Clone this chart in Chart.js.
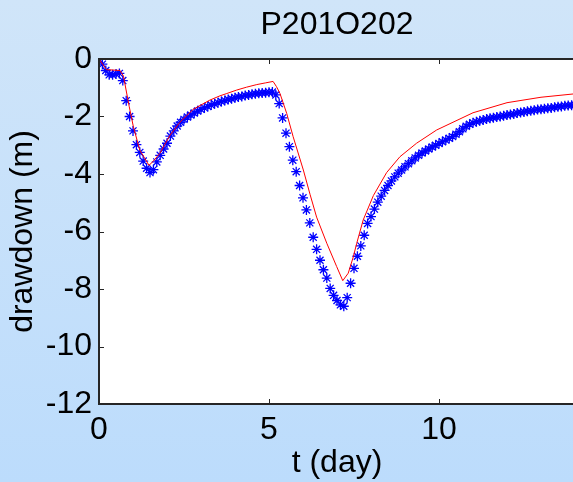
<!DOCTYPE html>
<html>
<head>
<meta charset="utf-8">
<script src="https://cdn.jsdelivr.net/npm/chart.js@4/dist/chart.umd.min.js"></script>
<style>
    html, body { margin: 0; padding: 0; overflow: hidden; }
    body { width: 573px; height: 482px; background: linear-gradient(to bottom, #d0e5f9, #bcdcfc); }
    #wrap { width: 575px; height: 482px; position: relative; }
</style>
</head>
<body>
<div id="wrap"><canvas id="drawdownChart"></canvas></div>
<script>
// Observed drawdown (blue stars), t in days
const obsTime = [
    0.0, 0.1, 0.2, 0.3, 0.4, 0.5, 0.6, 0.7, 0.8, 0.9,
    1.0, 1.1, 1.2, 1.3, 1.4, 1.5, 1.6, 1.7, 1.8, 1.9,
    2.0, 2.1, 2.2, 2.3, 2.4, 2.5, 2.6, 2.7, 2.8, 2.9,
    3.0, 3.1, 3.2, 3.3, 3.4, 3.5, 3.6, 3.7, 3.8, 3.9,
    4.0, 4.1, 4.2, 4.3, 4.4, 4.5, 4.6, 4.7, 4.8, 4.9,
    5.0, 5.1, 5.2, 5.3, 5.4, 5.5, 5.6, 5.7, 5.8, 5.9,
    6.0, 6.1, 6.2, 6.3, 6.4, 6.5, 6.6, 6.7, 6.8, 6.9,
    7.0, 7.1, 7.2, 7.3, 7.4, 7.5, 7.6, 7.7, 7.8, 7.9,
    8.0, 8.1, 8.2, 8.3, 8.4, 8.5, 8.6, 8.7, 8.8, 8.9,
    9.0, 9.1, 9.2, 9.3, 9.4, 9.5, 9.6, 9.7, 9.8, 9.9,
    10.0, 10.1, 10.2, 10.3, 10.4, 10.5, 10.6, 10.7, 10.8, 10.9,
    11.0, 11.1, 11.2, 11.3, 11.4, 11.5, 11.6, 11.7, 11.8, 11.9,
    12.0, 12.1, 12.2, 12.3, 12.4, 12.5, 12.6, 12.7, 12.8, 12.9,
    13.0, 13.1, 13.2, 13.3, 13.4, 13.5, 13.6, 13.7, 13.8, 13.9, 14.0
];
const obsDrawdown = [
    0, -0.18, -0.4, -0.55, -0.55, -0.52, -0.5, -0.75, -1.45, -2.0,
    -2.5, -2.98, -3.25, -3.55, -3.8, -3.95, -3.85, -3.58, -3.35, -3.13,
    -2.93, -2.68, -2.5, -2.33, -2.2, -2.1, -2.02, -1.95, -1.88, -1.81,
    -1.75, -1.7, -1.65, -1.6, -1.56, -1.52, -1.48, -1.44, -1.41, -1.38,
    -1.35, -1.32, -1.3, -1.27, -1.25, -1.23, -1.21, -1.19, -1.18, -1.17,
    -1.16, -1.15, -1.25, -1.55, -2.05, -2.58, -3.05, -3.52, -3.92, -4.4,
    -4.83, -5.25, -5.7, -6.2, -6.62, -7.0, -7.33, -7.62, -7.98, -8.22,
    -8.4, -8.55, -8.6, -8.3, -7.8, -7.28, -6.86, -6.5, -6.13, -5.72,
    -5.48, -5.22, -4.98, -4.77, -4.57, -4.4, -4.24, -4.1, -3.97, -3.86,
    -3.75, -3.64, -3.54, -3.44, -3.35, -3.27, -3.2, -3.13, -3.06, -3.0,
    -2.94, -2.88, -2.82, -2.76, -2.7, -2.62, -2.53, -2.43, -2.34, -2.27,
    -2.22, -2.18, -2.15, -2.12, -2.09, -2.06, -2.04, -2.02, -2.0, -1.97,
    -1.95, -1.93, -1.91, -1.88, -1.86, -1.84, -1.82, -1.8, -1.78, -1.76,
    -1.75, -1.73, -1.71, -1.7, -1.68, -1.66, -1.65, -1.63, -1.62, -1.61, -1.6
];

// Simulated drawdown (red line)
const modelTime = [
    0, 0.22, 0.62, 0.72, 0.89, 1.01, 1.2, 1.47, 1.6, 1.79,
    2.09, 2.38, 2.77, 3.26, 3.56, 3.76, 4.05, 4.34, 4.64, 4.9,
    5.12, 5.22, 5.32, 5.52, 5.71, 6.01, 6.21, 6.4, 6.7, 6.99,
    7.17, 7.33, 7.48, 7.58, 7.77, 8.07, 8.46, 8.85, 9.34, 9.93,
    10.5, 11.0, 12.0, 13.0, 14.0
];
const modelDrawdown = [
    0, -0.37, -0.4, -0.6, -1.66, -2.35, -3.17, -3.7, -3.55, -3.28,
    -2.65, -2.2, -1.75, -1.43, -1.28, -1.2, -1.08, -0.98, -0.89, -0.83,
    -0.78, -0.96, -1.19, -1.89, -2.7, -3.86, -4.72, -5.5, -6.41, -7.22,
    -7.71, -7.45, -6.88, -6.41, -5.6, -4.75, -3.95, -3.4, -2.93, -2.47,
    -2.15, -1.87, -1.52, -1.33, -1.21
];

const xTickValues = [0, 5, 10];
const yTickValues = [-12, -10, -8, -6, -4, -2, 0];

const FONT = 'Liberation Sans, Arial, sans-serif';

// white plot box, MATLAB style frame with inward ticks
const boxPlugin = {
    id: 'box',
    beforeDraw(chart) {
        const { ctx, chartArea: a } = chart;
        ctx.save();
        ctx.fillStyle = '#ffffff';
        ctx.fillRect(a.left, a.top, a.right - a.left, a.bottom - a.top);
        ctx.restore();
    },
    afterDraw(chart) {
        const { ctx, chartArea: a, scales } = chart;
        ctx.save();
        ctx.strokeStyle = '#262626';
        ctx.lineWidth = 1;
        ctx.beginPath();
        xTickValues.forEach(v => {
            const px = Math.round(scales.x.getPixelForValue(v)) + 0.5;
            ctx.moveTo(px, a.bottom); ctx.lineTo(px, a.bottom - 5);
            ctx.moveTo(px, a.top); ctx.lineTo(px, a.top + 5);
        });
        yTickValues.forEach(v => {
            const py = Math.round(scales.y.getPixelForValue(v)) + 0.5;
            ctx.moveTo(a.left, py); ctx.lineTo(a.left + 5, py);
        });
        ctx.stroke();
        ctx.lineWidth = 2;
        ctx.beginPath();
        ctx.moveTo(chart.width + 5, a.top);
        ctx.lineTo(a.left, a.top);
        ctx.lineTo(a.left, a.bottom);
        ctx.lineTo(chart.width + 5, a.bottom);
        ctx.stroke();
        ctx.restore();
    }
};

document.addEventListener('DOMContentLoaded', function() {
    initDrawdownChart();
});

function initDrawdownChart() {
    const ctx = document.getElementById('drawdownChart');
    if (!ctx) return;

    new Chart(ctx, {
        type: 'scatter',
        data: {
            datasets: [{
                label: 'simulated',
                data: modelTime.map((t, i) => ({ x: t, y: modelDrawdown[i] })),
                showLine: true,
                borderColor: '#ff0000',
                borderWidth: 1,
                pointRadius: 0,
                tension: 0,
                order: 0
            }, {
                label: 'observed',
                data: obsTime.map((t, i) => ({ x: t, y: obsDrawdown[i] })),
                showLine: false,
                pointStyle: 'star',
                pointRadius: 5,
                borderColor: '#0000ff',
                backgroundColor: '#0000ff',
                borderWidth: 1.3,
                order: 1
            }]
        },
        options: {
            responsive: true,
            maintainAspectRatio: false,
            animation: false,
            layout: { padding: 0, autoPadding: false },
            plugins: {
                legend: { display: false },
                tooltip: { enabled: false },
                title: {
                    display: true,
                    text: 'P201O202',
                    fullSize: false,
                    color: '#000',
                    font: { family: FONT, size: 32, weight: 'normal' },
                    padding: { top: 6, bottom: 14.6 }
                }
            },
            scales: {
                x: {
                    type: 'linear',
                    min: 0,
                    max: 14,
                    afterBuildTicks: scale => { scale.ticks = xTickValues.map(v => ({ value: v })); },
                    afterFit: scale => { scale.height = 78; },
                    grid: { display: false, drawTicks: false },
                    border: { display: false },
                    ticks: {
                        color: '#000',
                        padding: 7,
                        maxRotation: 0,
                        font: { family: FONT, size: 32 }
                    },
                    title: {
                        display: true,
                        text: 't (day)',
                        color: '#000',
                        font: { family: FONT, size: 32 },
                        padding: { top: 0, bottom: 0 }
                    }
                },
                y: {
                    type: 'linear',
                    min: -12,
                    max: 0,
                    afterBuildTicks: scale => { scale.ticks = yTickValues.map(v => ({ value: v })); },
                    afterFit: scale => { scale.width = 99; },
                    grid: { display: false, drawTicks: false },
                    border: { display: false },
                    ticks: {
                        color: '#000',
                        padding: 7,
                        font: { family: FONT, size: 32 }
                    },
                    title: {
                        display: true,
                        text: 'drawdown (m)',
                        color: '#000',
                        font: { family: FONT, size: 32 },
                        padding: { top: 4, bottom: 0 }
                    }
                }
            }
        },
        plugins: [boxPlugin]
    });
}
</script>
</body>
</html>
